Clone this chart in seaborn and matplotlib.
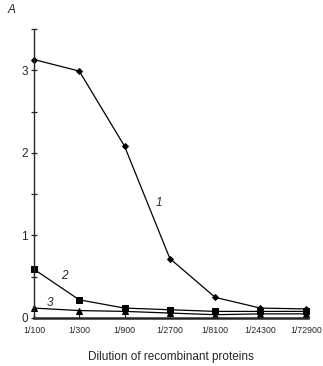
import matplotlib
matplotlib.use("Agg")
import matplotlib.pyplot as plt
import seaborn as sns
import pandas as pd

dilutions = ["1/100", "1/300", "1/900", "1/2700", "1/8100", "1/24300", "1/72900"]
series1 = [3.13, 2.99, 2.08, 0.72, 0.25, 0.12, 0.11]
series2 = [0.59, 0.22, 0.12, 0.10, 0.08, 0.08, 0.08]
series3 = [0.12, 0.09, 0.08, 0.06, 0.04, 0.05, 0.05]
series_names = ["1", "2", "3"]

rows = []
for name, vals in zip(series_names, [series1, series2, series3]):
    for i, v in enumerate(vals):
        rows.append({"pos": i, "value": v, "series": name})
df = pd.DataFrame(rows)

sns.set_style("ticks")
plt.rcParams["font.family"] = ["Liberation Sans", "DejaVu Sans"]

fig = plt.figure(figsize=(3.23, 3.66), dpi=100)
ax = fig.add_axes([34 / 323, (366 - 318) / 366, (308 - 34) / 323, (318 - 29) / 366])

markers = {"1": "D", "2": "s", "3": "^"}
sizes = {"1": 3, "2": 5, "3": 5}
for name in series_names:
    sub = df[df["series"] == name]
    sns.lineplot(data=sub, x="pos", y="value", ax=ax, color="black", lw=0.9,
                 marker=markers[name], markersize=sizes[name], markeredgecolor="black",
                 markerfacecolor="black", legend=False, clip_on=False)

ax.set_xlim(0, 6.05)
ax.set_ylim(0, 3.5)
ax.set_xticks(range(len(dilutions)))
ax.set_xticklabels(dilutions, fontsize=6.3)
ax.set_yticks([0, 0.5, 1, 1.5, 2, 2.5, 3, 3.5])
ax.set_yticklabels(["0", "", "1", "", "2", "", "3", ""], fontsize=8.5)
ax.tick_params(axis="y", direction="inout", length=4.5, width=0.9, pad=2)
ax.tick_params(axis="x", direction="in", length=3, width=0.9, pad=6)
ax.set_xlabel("Dilution of recombinant proteins", fontsize=8.5, labelpad=11)
ax.set_ylabel("")
for side in ["top", "right"]:
    ax.spines[side].set_visible(False)
ax.spines["left"].set_linewidth(1.0)
ax.spines["bottom"].set_linewidth(1.8)

ax.text(2.68, 1.36, "1", fontsize=8.5, style="italic")
ax.text(0.6, 0.47, "2", fontsize=8.5, style="italic")
ax.text(0.27, 0.15, "3", fontsize=8.5, style="italic")
fig.text(8 / 323, 1 - 13 / 366, "A", fontsize=8.5, style="italic")

fig.savefig("out.png", dpi=100)
